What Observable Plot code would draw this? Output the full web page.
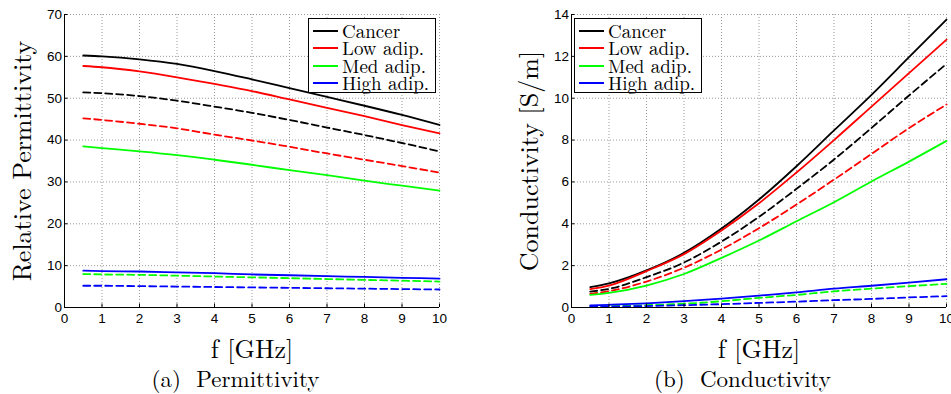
<!DOCTYPE html>
<html>
<head>
<meta charset="utf-8">
<script src="https://cdn.jsdelivr.net/npm/d3@7"></script>
<script src="https://cdn.jsdelivr.net/npm/@observablehq/plot@0.6"></script>
<style>
  html, body { margin: 0; padding: 0; background: #fff; overflow: hidden; }
  #fig { position: relative; width: 951px; height: 394px; }
  .panel { position: absolute; top: 0; }
  .legend {
    position: absolute; box-sizing: border-box; background: #fff;
    border: 1.3px solid #000; font-family: "Latin Modern Roman", serif;
    font-size: 19px; color: #000; padding-top: 3px;
  }
  .legend .row { position: relative; height: 17.4px; line-height: 17.4px; white-space: nowrap; }
  .legend .swatch { position: absolute; left: 4px; top: 8px; width: 25px; height: 0; border-top: 2px solid; }
  .legend .label { position: absolute; left: 33px; top: 0; }
</style>
</head>
<body>
<div id="fig"></div>
<script>
// Frequency samples (GHz)
const freqGHz = [0.5, 1, 2, 3, 4, 5, 6, 7, 8, 9, 10];

// Tissue groups and their line colours
const tissues = ["Cancer", "Low adip.", "Med adip.", "High adip."];
const tissueColors = ["#000000", "#ff0000", "#00ff00", "#0000ff"];

// Relative permittivity, first set (solid curves)
const permCancer1 = [60.2, 60.0, 59.3, 58.2, 56.5, 54.5, 52.4, 50.3, 48.2, 46.0, 43.6];
const permLow1    = [57.7, 57.4, 56.4, 55.0, 53.4, 51.7, 49.7, 47.7, 45.7, 43.6, 41.6];
const permMed1    = [38.5, 38.1, 37.3, 36.4, 35.3, 34.1, 32.8, 31.6, 30.3, 29.1, 27.9];
const permHigh1   = [8.8, 8.7, 8.6, 8.4, 8.2, 7.9, 7.7, 7.5, 7.3, 7.1, 6.9];
// Relative permittivity, second set (dashed curves)
const permCancer2 = [51.4, 51.2, 50.5, 49.4, 48.0, 46.5, 44.8, 43.0, 41.2, 39.3, 37.3];
const permLow2    = [45.2, 44.8, 43.9, 42.8, 41.3, 39.9, 38.4, 36.8, 35.3, 33.8, 32.2];
const permMed2    = [8.0, 7.9, 7.8, 7.6, 7.4, 7.2, 7.0, 6.8, 6.6, 6.4, 6.2];
const permHigh2   = [5.2, 5.2, 5.1, 5.0, 4.9, 4.8, 4.7, 4.6, 4.5, 4.4, 4.3];

// Conductivity in S/m, first set (solid curves)
const condCancer1 = [0.97, 1.15, 1.77, 2.61, 3.77, 5.16, 6.75, 8.46, 10.16, 11.96, 13.76];
const condLow1    = [0.88, 1.05, 1.74, 2.55, 3.68, 4.98, 6.45, 8.0, 9.6, 11.2, 12.8];
const condMed1    = [0.6, 0.7, 1.05, 1.6, 2.37, 3.2, 4.12, 5.03, 6.02, 6.97, 7.96];
const condHigh1   = [0.1, 0.13, 0.2, 0.3, 0.42, 0.57, 0.72, 0.9, 1.04, 1.19, 1.35];
// Conductivity in S/m, second set (dashed curves)
const condCancer2 = [0.76, 0.89, 1.45, 2.15, 3.15, 4.33, 5.67, 7.07, 8.58, 10.13, 11.64];
const condLow2    = [0.65, 0.78, 1.24, 1.9, 2.77, 3.79, 4.92, 6.11, 7.34, 8.57, 9.7];
const condMed2    = [0.06, 0.07, 0.11, 0.18, 0.3, 0.46, 0.6, 0.77, 0.9, 1.02, 1.13];
const condHigh2   = [0.03, 0.04, 0.07, 0.11, 0.16, 0.22, 0.28, 0.35, 0.41, 0.48, 0.54];

// Axis ticks
const freqTicks = [0, 1, 2, 3, 4, 5, 6, 7, 8, 9, 10];
const permTicks = [0, 10, 20, 30, 40, 50, 60, 70];
const condTicks = [0, 2, 4, 6, 8, 10, 12, 14];

// Long-format rows for one set of curves
function rows(seriesList) {
  return seriesList.flatMap((vals, i) =>
    vals.map((v, j) => ({f: freqGHz[j], v, tissue: tissues[i]})));
}

const serif = "Latin Modern Roman, serif";
const sans = "Liberation Sans, Arial, sans-serif";

function panel({set1, set2, yTicks, yLabel, caption, left, width, marginLeft, marginRight}) {
  const chart = Plot.plot({
    width, height: 394,
    marginLeft, marginRight, marginTop: 14, marginBottom: 87,
    x: {domain: [0, 10]},
    y: {domain: [yTicks[0], yTicks[yTicks.length - 1]]},
    color: {domain: tissues, range: tissueColors},
    style: {fontFamily: sans, fontSize: "13.5px", color: "#000", background: "transparent", overflow: "visible"},
    marks: [
      Plot.gridX(freqTicks, {stroke: "#9a9a9a", strokeOpacity: 1, strokeDasharray: "1,2"}),
      Plot.gridY(yTicks, {stroke: "#9a9a9a", strokeOpacity: 1, strokeDasharray: "1,2"}),
      Plot.line(rows(set2), {x: "f", y: "v", z: "tissue", stroke: "tissue", strokeWidth: 1.8, strokeDasharray: "7,4", curve: "monotone-x"}),
      Plot.line(rows(set1), {x: "f", y: "v", z: "tissue", stroke: "tissue", strokeWidth: 1.8, curve: "monotone-x"}),
      Plot.ruleX([0], {stroke: "#000", strokeWidth: 1}),
      Plot.ruleY([yTicks[0]], {stroke: "#000", strokeWidth: 1}),
      Plot.axisX(freqTicks, {tickSize: -3.5, tickPadding: 9.5, label: null, fontFamily: sans, fontSize: 13.5, fill: "#000"}),
      Plot.axisY(yTicks, {tickSize: -3.5, tickPadding: 6, label: null, fontFamily: sans, fontSize: 13.5, fill: "#000"}),
      Plot.text([yLabel], {text: d => d, frameAnchor: "left", dx: -42, rotate: -90, textAnchor: "middle", lineAnchor: "middle", fontFamily: serif, fontSize: 26, fill: "#000"}),
      Plot.text(["f [GHz]"], {text: d => d, frameAnchor: "bottom", dy: 42, textAnchor: "middle", lineAnchor: "middle", fontFamily: serif, fontSize: 26, fill: "#000"}),
      Plot.text([caption], {text: d => d, frameAnchor: "bottom", dx: -16.5, dy: 72, textAnchor: "middle", lineAnchor: "middle", fontFamily: serif, fontSize: 23, fill: "#000"})
    ]
  });
  const wrap = document.createElement("div");
  wrap.className = "panel";
  wrap.style.left = left + "px";
  wrap.style.width = width + "px";
  wrap.appendChild(chart);
  return wrap;
}

function legend(left) {
  const box = document.createElement("div");
  box.className = "legend";
  Object.assign(box.style, {left: left + "px", top: "18px", width: "128px", height: "75px"});
  tissues.forEach((name, i) => {
    const row = document.createElement("div");
    row.className = "row";
    const sw = document.createElement("span");
    sw.className = "swatch";
    sw.style.borderTopColor = tissueColors[i];
    const lab = document.createElement("span");
    lab.className = "label";
    lab.textContent = name;
    row.append(sw, lab);
    box.appendChild(row);
  });
  return box;
}

const fig = document.getElementById("fig");
fig.appendChild(panel({
  set1: [permCancer1, permLow1, permMed1, permHigh1],
  set2: [permCancer2, permLow2, permMed2, permHigh2],
  yTicks: permTicks, yLabel: "Relative Permittivity", caption: "(a)  Permittivity",
  left: 0, width: 476, marginLeft: 64, marginRight: 37
}));
fig.appendChild(panel({
  set1: [condCancer1, condLow1, condMed1, condHigh1],
  set2: [condCancer2, condLow2, condMed2, condHigh2],
  yTicks: condTicks, yLabel: "Conductivity [S/m]", caption: "(b)  Conductivity",
  left: 476, width: 475, marginLeft: 95, marginRight: 5
}));
fig.appendChild(legend(308));
fig.appendChild(legend(574));
</script>
</body>
</html>
